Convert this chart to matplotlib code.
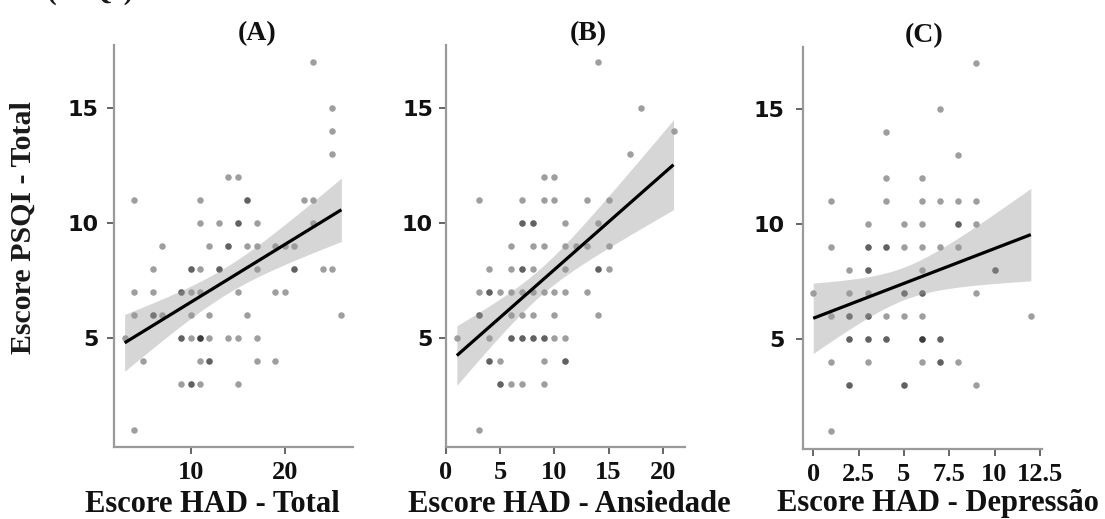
import matplotlib
matplotlib.use("Agg")
import matplotlib.pyplot as plt
import numpy as np

# ---------------- data ----------------
# Panel A: Escore HAD - Total vs Escore PSQI - Total
had_total = [23,
             25, 25, 25,
             14, 15,
             4, 11, 16, 16, 22, 23,
             11, 13, 15, 15, 17, 23,
             7, 12, 14, 14, 16, 17, 19, 20, 21,
             6, 10, 10, 11, 13, 13, 17, 21, 21, 24, 25,
             4, 6, 9, 9, 10, 11, 15, 19, 20,
             4, 6, 6, 7, 10, 12, 16, 26,
             3, 9, 9, 10, 11, 11, 11, 12, 14, 15, 17,
             5, 11, 12, 12, 17, 19,
             9, 10, 10, 11, 15,
             4]
psqi_a = [17,
          15, 14, 13,
          12, 12,
          11, 11, 11, 11, 11, 11,
          10, 10, 10, 10, 10, 10,
          9, 9, 9, 9, 9, 9, 9, 9, 9,
          8, 8, 8, 8, 8, 8, 8, 8, 8, 8, 8,
          7, 7, 7, 7, 7, 7, 7, 7, 7,
          6, 6, 6, 6, 6, 6, 6, 6,
          5, 5, 5, 5, 5, 5, 5, 5, 5, 5, 5,
          4, 4, 4, 4, 4, 4,
          3, 3, 3, 3, 3,
          1]

# Panel B: Escore HAD - Ansiedade vs Escore PSQI - Total
had_ansiedade = [14,
                 18,
                 21,
                 17,
                 9, 10,
                 3, 7, 9, 10, 13, 15,
                 7, 7, 8, 8, 11, 14,
                 6, 8, 9, 11, 12, 13, 15,
                 4, 6, 7, 7, 8, 11, 14, 14, 15,
                 3, 4, 4, 5, 6, 7, 8, 9, 10, 11, 13,
                 3, 3, 6, 7, 8, 10, 14,
                 1, 4, 6, 6, 7, 7, 8, 8, 9, 9, 10, 11,
                 4, 4, 5, 9, 11, 11,
                 5, 5, 6, 7, 9,
                 3]
psqi_b = [17,
          15,
          14,
          13,
          12, 12,
          11, 11, 11, 11, 11, 11,
          10, 10, 10, 10, 10, 10,
          9, 9, 9, 9, 9, 9, 9,
          8, 8, 8, 8, 8, 8, 8, 8, 8,
          7, 7, 7, 7, 7, 7, 7, 7, 7, 7, 7,
          6, 6, 6, 6, 6, 6, 6,
          5, 5, 5, 5, 5, 5, 5, 5, 5, 5, 5, 5,
          4, 4, 4, 4, 4, 4,
          3, 3, 3, 3, 3,
          1]

# Panel C: Escore HAD - Depressão vs Escore PSQI - Total
had_depressao = [9,
                 7,
                 4,
                 8,
                 4, 6,
                 1, 4, 6, 7, 8, 9,
                 3, 5, 6, 8, 8, 9,
                 1, 3, 3, 4, 4, 5, 6, 7, 8,
                 2, 3, 3, 6, 10, 10,
                 0, 2, 3, 5, 5, 6, 6, 9,
                 1, 2, 2, 3, 3, 4, 5, 6, 12,
                 2, 2, 3, 3, 4, 4, 6, 6, 6, 7, 7,
                 1, 3, 6, 7, 7, 8,
                 2, 2, 5, 5, 9,
                 1]
psqi_c = [17,
          15,
          14,
          13,
          12, 12,
          11, 11, 11, 11, 11, 11,
          10, 10, 10, 10, 10, 10,
          9, 9, 9, 9, 9, 9, 9, 9, 9,
          8, 8, 8, 8, 8, 8,
          7, 7, 7, 7, 7, 7, 7, 7,
          6, 6, 6, 6, 6, 6, 6, 6, 6,
          5, 5, 5, 5, 5, 5, 5, 5, 5, 5, 5,
          4, 4, 4, 4, 4, 4,
          3, 3, 3, 3, 3,
          1]

panel_titles = ["(A)", "(B)", "(C)"]
x_labels = ["Escore HAD - Total", "Escore HAD - Ansiedade", "Escore HAD - Depressão"]
y_label = "Escore PSQI - Total"
y_ticks = [5, 10, 15]
x_ticks_a = [10, 20]
x_ticks_b = [0, 5, 10, 15, 20]
x_ticks_c = [0, 2.5, 5, 7.5, 10, 12.5]
x_ticklabels_c = ["0", "2.5", "5", "7.5", "10", "12.5"]


def t_quantile_975(df):
    # Cornish-Fisher expansion of the Student t quantile around z(0.975)
    z = 1.959963985
    return (z + (z**3 + z) / (4 * df)
            + (5 * z**5 + 16 * z**3 + 3 * z) / (96 * df**2)
            + (3 * z**7 + 19 * z**5 + 17 * z**3 - 15 * z) / (384 * df**3))


def linear_fit_ci(x, y, grid):
    x = np.asarray(x, float)
    y = np.asarray(y, float)
    n = len(x)
    slope, intercept = np.polyfit(x, y, 1)
    resid = y - (intercept + slope * x)
    s = np.sqrt(np.sum(resid**2) / (n - 2))
    xbar = x.mean()
    sxx = np.sum((x - xbar) ** 2)
    fit = intercept + slope * grid
    se = s * np.sqrt(1.0 / n + (grid - xbar) ** 2 / sxx)
    t = t_quantile_975(n - 2)
    return fit, fit - t * se, fit + t * se


# ---------------- figure ----------------
W, H = 1105, 519
fig = plt.figure(figsize=(W / 100, H / 100), dpi=100)

SERIF = ["Liberation Serif", "DejaVu Serif"]
SANS = ["DejaVu Sans"]


def px_rect(left, top, right, bottom):
    return [left / W, 1 - bottom / H, (right - left) / W, (bottom - top) / H]


panels = [
    dict(x=had_total, y=psqi_a, rect=px_rect(114, 45, 352.7, 446.7),
         xlim=(1.87, 27.2), ylim=(0.27, 17.74), xticks=x_ticks_a, xtl=None,
         title_x=0.599, xlabel_cx=212.5, ypad=6.2),
    dict(x=had_ansiedade, y=psqi_b, rect=px_rect(446, 45, 685, 447),
         xlim=(0.0, 22.06), ylim=(0.26, 17.74), xticks=x_ticks_b, xtl=None,
         title_x=0.594, xlabel_cx=569, ypad=4.2),
    dict(x=had_depressao, y=psqi_c, rect=px_rect(802.7, 46.7, 1041.7, 449.3),
         xlim=(-0.58, 12.6), ylim=(0.22, 17.72), xticks=x_ticks_c, xtl=x_ticklabels_c,
         title_x=0.507, xlabel_cx=938, ypad=8.0),
]

axes = []
for i, p in enumerate(panels):
    ax = fig.add_axes(p["rect"])
    axes.append(ax)
    ax.scatter(p["x"], p["y"], s=22, color="black", alpha=0.38, linewidths=0, zorder=2)
    grid = np.linspace(min(p["x"]), max(p["x"]), 200)
    fit, lo, hi = linear_fit_ci(p["x"], p["y"], grid)
    ax.fill_between(grid, lo, hi, color="#999999", alpha=0.4, linewidth=0, zorder=3)
    ax.plot(grid, fit, color="black", linewidth=2.3, zorder=4, solid_capstyle="butt")
    ax.set_xlim(*p["xlim"])
    ax.set_ylim(*p["ylim"])
    ax.set_xticks(p["xticks"])
    if p["xtl"] is not None:
        ax.set_xticklabels(p["xtl"])
    ax.set_yticks(y_ticks)
    for s in ["top", "right"]:
        ax.spines[s].set_visible(False)
    for s in ["left", "bottom"]:
        ax.spines[s].set_color("#9a9a9a")
        ax.spines[s].set_linewidth(1.6)
    ax.tick_params(axis="both", direction="out", length=5.2, width=1.2, color="#4a4a4a")
    ax.tick_params(axis="y", pad=p["ypad"])
    ax.tick_params(axis="x", pad=5.0)
    for lab in ax.get_yticklabels():
        lab.set_fontfamily(SANS)
        lab.set_fontweight("bold")
        lab.set_fontsize(16)
        lab.set_color("#111111")
    for lab in ax.get_xticklabels():
        lab.set_fontfamily(SERIF)
        lab.set_fontweight("bold")
        lab.set_fontsize(19)
        lab.set_color("#111111")
    ax.set_title(panel_titles[i], x=p["title_x"], y=1.011, pad=0,
                 fontsize=20, fontweight="bold", family=SERIF, color="#111111")
    ax.set_xlabel(x_labels[i], fontsize=22, fontweight="bold", family=SERIF, color="#111111")
    ax.xaxis.set_label_coords(p["xlabel_cx"] / W, 1 - 504 / H, transform=fig.transFigure)
    ax.xaxis.label.set_va("center")
    ax.set_ylabel("")

axes[0].set_ylabel(y_label, fontsize=21.5, fontweight="bold", family=SERIF, color="#1a1a1a")
axes[0].yaxis.set_label_coords(23 / W, 1 - 228 / H, transform=fig.transFigure)
axes[0].yaxis.label.set_va("center")

# remnant of a cropped heading at the very top-left edge
fig.text(47 / W, 1 + 1 / H, "(PSQI)", fontsize=21, fontweight="bold", family=SERIF,
         va="baseline", ha="left", color="#1a1a1a")

fig.savefig("out.png", dpi=100)
